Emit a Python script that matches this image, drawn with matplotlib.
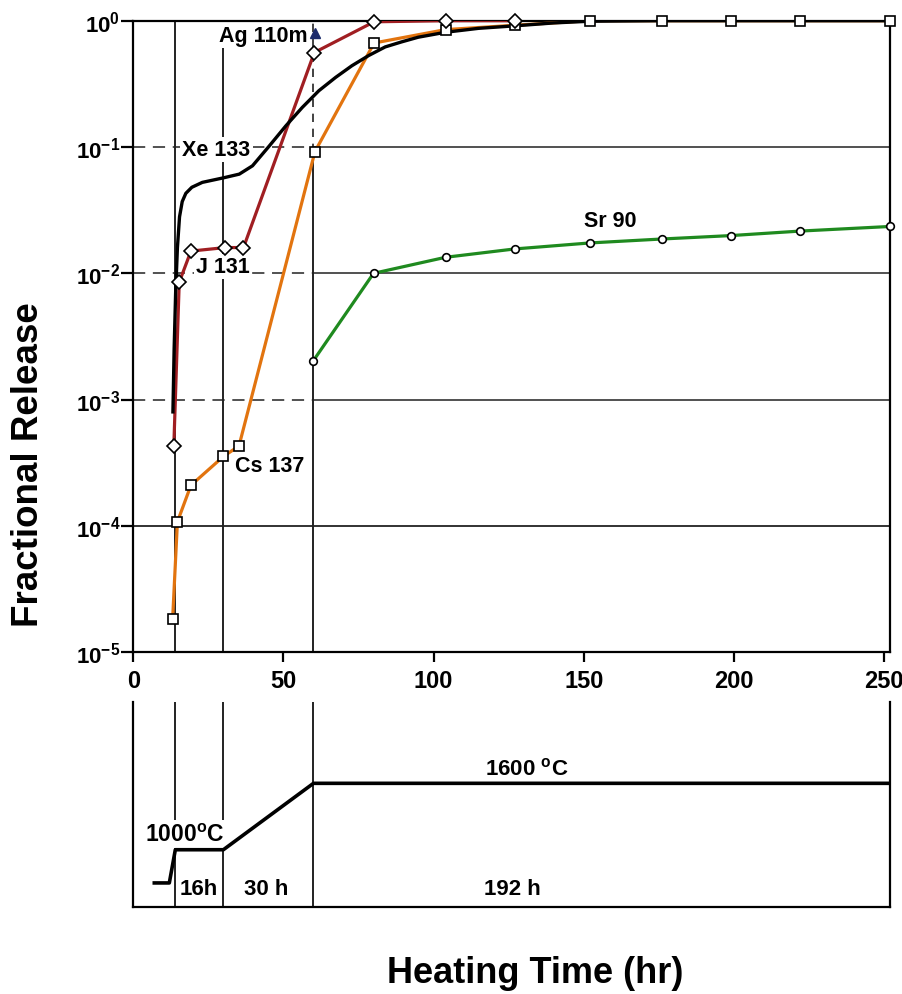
import numpy as np
import matplotlib
matplotlib.use("Agg")
import matplotlib.pyplot as plt

plt.rcParams['font.family'] = 'Liberation Sans'
plt.rcParams['font.weight'] = 'bold'
plt.rcParams['mathtext.fontset'] = 'custom'
plt.rcParams['mathtext.rm'] = 'Liberation Sans:bold'
plt.rcParams['mathtext.bf'] = 'Liberation Sans:bold'
plt.rcParams['mathtext.it'] = 'Liberation Sans:bold:italic'
plt.rcParams['mathtext.sf'] = 'Liberation Sans:bold'

# --- data ---
# Xe 133, smooth curve without markers
xe_t = [13.2, 13.6, 14.1, 14.7, 15.4, 16.3, 17.5, 19.5, 23.0, 30.0, 35.3, 39.7, 45.3, 50.8, 56.3,
        61.8, 67.4, 72.8, 78.4, 83.9, 89.4, 94.9, 104, 115, 127, 140, 152, 176, 199, 252]
xe_f = [8e-4, 2.5e-3, 7e-3, 0.016, 0.028, 0.037, 0.043, 0.048, 0.0525, 0.057, 0.061, 0.071, 0.102,
        0.147, 0.206, 0.279, 0.356, 0.44, 0.53, 0.62, 0.68, 0.74, 0.81, 0.87, 0.91, 0.96, 0.99,
        1.0, 1.0, 1.0]

# J 131 (diamonds)
j_t = [13.5, 15.3, 19.2, 30.6, 36.7, 60.3, 80.2, 104, 127]
j_f = [4.3e-4, 8.5e-3, 0.015, 0.016, 0.016, 0.56, 0.98, 1.0, 1.0]

# Cs 137 (squares)
cs_t = [13.1, 14.7, 19.2, 30.0, 35.2, 60.5, 80.2, 104, 127, 152, 176, 199, 222, 252]
cs_f = [1.83e-5, 1.08e-4, 2.1e-4, 3.55e-4, 4.3e-4, 0.092, 0.666, 0.85, 0.92, 1.0, 1.0, 1.0, 1.0, 1.0]

# Sr 90 (circles)
sr_t = [60, 80, 104, 127, 152, 176, 199, 222, 252]
sr_f = [2.04e-3, 0.0100, 0.0134, 0.0156, 0.0174, 0.0187, 0.0199, 0.0216, 0.0235]

# Ag 110m (single point)
ag_t = [60.5]
ag_f = [0.80]

# heating programme
t_start = 14
phase_hours = [16, 30, 192]
phase_labels = ['16h', '30 h', '192 h']
profile_t = [7, 12, 14, 30, 60, 252]
profile_T = [700, 700, 1000, 1000, 1600, 1600]

x_ticks = [0, 50, 100, 150, 200, 250]
y_ticks = [1e-5, 1e-4, 1e-3, 1e-2, 1e-1, 1e0]
y_tick_labels = [r'$10^{-5}$', r'$10^{-4}$', r'$10^{-3}$', r'$10^{-2}$', r'$10^{-1}$', r'$10^{0}$']

bounds = list(np.cumsum([t_start] + phase_hours))   # 14, 30, 60, 252

red = '#a01e22'
orange = '#e2740f'
green = '#1f8a1f'
navy = '#1b2a6b'
grid_c = '#222222'

fig = plt.figure(figsize=(9.03, 9.95), dpi=100)

# ---------------- top panel ----------------
ax = fig.add_axes([0.1476, 0.3434, 0.838, 0.6348])
ax.set_yscale('log')
ax.set_xlim(0, bounds[-1])
ax.set_ylim(1e-5, 1)
for s in ax.spines.values():
    s.set_linewidth(1.6)
ax.set_xticks(x_ticks)
ax.set_xticklabels([str(v) for v in x_ticks], fontsize=17, fontweight='bold')
ax.set_yticks(y_ticks)
ax.set_yticklabels(y_tick_labels, fontsize=16)
ax.yaxis.set_minor_locator(matplotlib.ticker.NullLocator())
ax.tick_params(axis='x', direction='out', length=7, width=1.6, pad=5)
ax.tick_params(axis='y', direction='out', length=8.5, width=1.6, pad=1)

# grid lines
for d in [1e-1, 1e-2, 1e-3]:
    ax.plot([0, bounds[2]], [d, d], color=grid_c, lw=1.1, dashes=(8, 5), zorder=1)
    ax.plot([bounds[2], bounds[-1]], [d, d], color=grid_c, lw=1.1, zorder=1)
ax.plot([0, bounds[-1]], [1e-4, 1e-4], color=grid_c, lw=1.3, zorder=1)
ax.axvline(bounds[0], color=grid_c, lw=1.4, zorder=1)
ax.axvline(bounds[1], color=grid_c, lw=1.4, zorder=1)
ax.plot([bounds[2], bounds[2]], [1e-5, cs_f[5]], color=grid_c, lw=1.4, zorder=1)
ax.plot([bounds[2], bounds[2]], [cs_f[5], 1], color=grid_c, lw=1.2, dashes=(5, 4), zorder=1)

# series
mk = dict(ls='none', markerfacecolor='white', markeredgecolor='black', markeredgewidth=1.2,
          zorder=6, clip_on=False)
ax.plot(cs_t, cs_f, color=orange, lw=2.3, zorder=3)
ax.plot(j_t, j_f, color=red, lw=2.3, zorder=3)
ax.plot(sr_t, sr_f, color=green, lw=2.3, zorder=3)
ax.plot(xe_t, xe_f, color='black', lw=2.4, zorder=4)
ax.plot(cs_t, cs_f, marker='s', markersize=7, **mk)
ax.plot(j_t, j_f, marker='D', markersize=7, **mk)
ax.plot(sr_t, sr_f, marker='o', markersize=5.5, **mk)
ax.plot(ag_t, ag_f, ls='none', marker='^', markersize=7, color=navy, zorder=6)

box = dict(facecolor='white', edgecolor='none', pad=1.5)
ax.text(58, 0.77, 'Ag 110m', fontsize=15.5, ha='right', va='center', bbox=box, zorder=2)
ax.text(16.3, 0.095, 'Xe 133', fontsize=15.5, ha='left', va='center', bbox=box, zorder=2)
ax.text(21, 0.0113, 'J 131', fontsize=15.5, ha='left', va='center', bbox=box, zorder=2)
ax.text(34, 3.0e-4, 'Cs 137', fontsize=15.5, ha='left', va='center', bbox=box, zorder=2)
ax.text(159, 0.026, 'Sr 90', fontsize=15.5, ha='center', va='center', zorder=2)

# ---------------- bottom panel ----------------
ax2 = fig.add_axes([0.1476, 0.0877, 0.838, 0.2058])
ax2.set_xlim(0, bounds[-1])
ax2.set_ylim(485, 2335)
ax2.set_xticks([])
ax2.set_yticks([])
ax2.spines['top'].set_visible(False)
for s in ['left', 'right', 'bottom']:
    ax2.spines[s].set_linewidth(1.6)
for b in bounds[:3]:
    ax2.axvline(b, color=grid_c, lw=1.4, zorder=1)
ax2.plot(profile_t, profile_T, color='black', lw=2.6, zorder=3)

ax2.text(17, 1142, r'1000$^{\rm o}$C', fontsize=16.5, ha='center', va='center', bbox=box, zorder=2)
ax2.text(131, 1739, r'1600 $^{\rm o}$C', fontsize=16, ha='center', va='center', zorder=2)
label_x = [21.9, 44.1, 126.4]
for x, lab in zip(label_x, phase_labels):
    ax2.text(x, 654, lab, fontsize=16, ha='center', va='center', bbox=box, zorder=2)

fig.text(0.0316, 0.5327, 'Fractional Release', rotation=90, fontsize=26.5,
         fontweight='bold', ha='center', va='center')
fig.text(0.5925, 0.012, 'Heating Time (hr)', fontsize=26, fontweight='bold',
         ha='center', va='baseline')

fig.savefig('out.png', dpi=100, facecolor='white')
